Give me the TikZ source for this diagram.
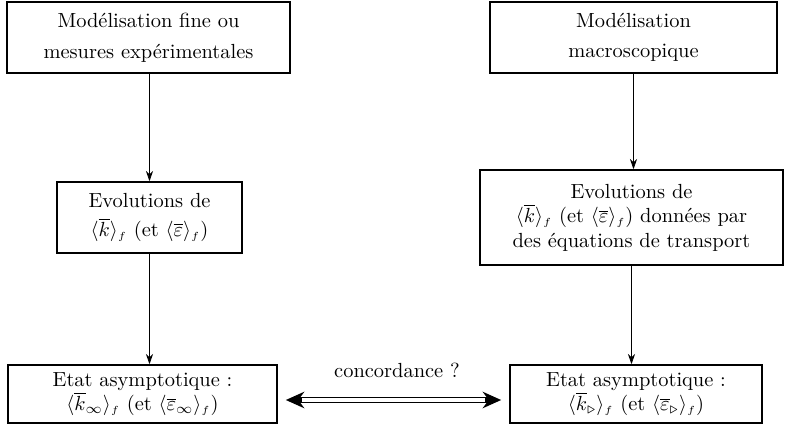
\documentclass[tikz,border=0pt]{standalone}
\usepackage{fontspec}
\usepackage{amsmath,amssymb}
\usetikzlibrary{arrows.meta}

\newcommand{\moy}[1]{\langle #1\rangle_{\scriptscriptstyle f}}

\begin{document}
\begin{tikzpicture}[x=0.0172cm, y=-0.0172cm,
    boite/.style={draw, thick, align=center, inner sep=0pt},
    fleche/.style={-{Stealth[length=5pt,width=3.5pt]}},
    pointe/.tip={Stealth[length=9pt,width=8pt]}]
    \useasboundingbox (0,0) rectangle (785,434);

    % Colonne de gauche
    \node[boite, minimum width=283*0.0172cm, minimum height=71*0.0172cm] (fine) at (148.5, 37.5)
        {Modélisation fine ou\\[3pt]mesures expérimentales};
    \node[boite, minimum width=185*0.0172cm, minimum height=71*0.0172cm] (evolg) at (149.5, 217.5)
        {Evolutions de\\[2pt]$\moy{\overline{k}}$ (et $\moy{\overline{\varepsilon}}$)};
    \node[boite, minimum width=269*0.0172cm, minimum height=58*0.0172cm] (etatg) at (142.5, 394)
        {Etat asymptotique :\\$\moy{\overline{k}_\infty}$ (et $\moy{\overline{\varepsilon}_\infty}$)};

    % Colonne de droite
    \node[boite, minimum width=287*0.0172cm, minimum height=71*0.0172cm] (macro) at (633.5, 37.5)
        {Modélisation\\[3pt]macroscopique};
    \node[boite, minimum width=303*0.0172cm, minimum height=95*0.0172cm] (evold) at (631.5, 217.5)
        {Evolutions de\\$\moy{\overline{k}}$ (et $\moy{\overline{\varepsilon}}$) données par\\des équations de transport};
    \node[boite, minimum width=252*0.0172cm, minimum height=58*0.0172cm] (etatd) at (636, 394)
        {Etat asymptotique :\\$\moy{\overline{k}_\triangleright}$ (et $\moy{\overline{\varepsilon}_\triangleright}$)};

    % Fleches
    \draw[fleche] (fine.south -| evolg.north) -- (evolg.north);
    \draw[fleche] (evolg) -- (etatg.north -| evolg.south);
    \draw[fleche] (macro) -- (evold.north -| macro.south);
    \draw[fleche] (evold) -- (etatd.north -| evold.south);

    % Double fleche
    \path (etatg.east) ++(8,6) coordinate (ca);
    \path (etatd.west) ++(-8,6) coordinate (cb);
    \draw[line width=3.3pt, pointe-pointe] (ca) -- (cb);
    \draw[white, line width=1.9pt, shorten <=8pt, shorten >=8pt] (ca) -- (cb);
    \node (conc) at (397, 370) {concordance ?};
\end{tikzpicture}
\end{document}
